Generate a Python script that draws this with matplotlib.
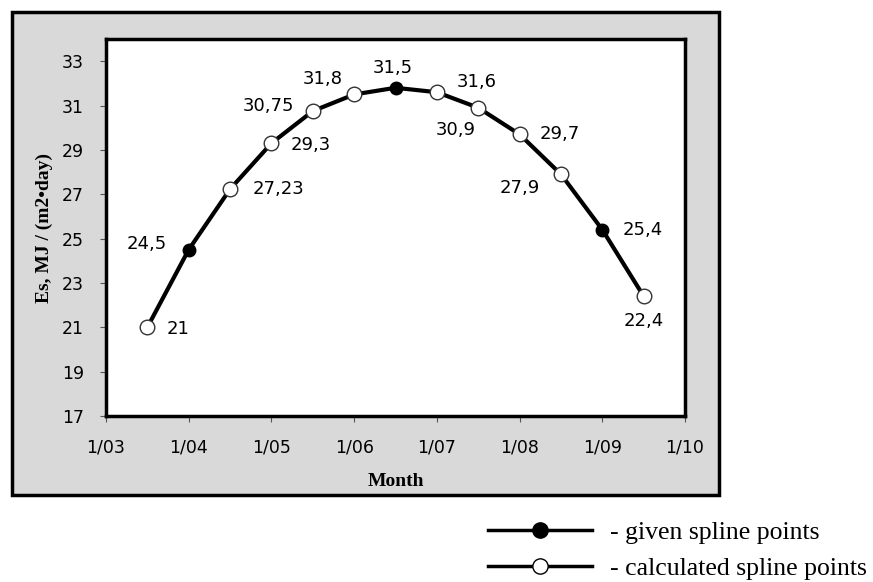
import matplotlib
matplotlib.use("Agg")
import matplotlib.pyplot as plt
from matplotlib.patches import Rectangle
from matplotlib.lines import Line2D

# months (3.5 = mid March ... 9.5 = mid September)
months = [3.5, 4.0, 4.5, 5.0, 5.5, 6.0, 6.5, 7.0, 7.5, 8.0, 8.5, 9.0, 9.5]
es_values = [21.0, 24.5, 27.23, 29.3, 30.75, 31.5, 31.8, 31.6, 30.9, 29.7, 27.9, 25.4, 22.4]
point_labels = ["21", "24,5", "27,23", "29,3", "30,75", "31,8", "31,5",
                "31,6", "30,9", "29,7", "27,9", "25,4", "22,4"]
given = [False, True, False, False, False, False, True, False, False, False, False, True, False]

x_ticks = [3, 4, 5, 6, 7, 8, 9, 10]
x_ticklabels = ["1/03", "1/04", "1/05", "1/06", "1/07", "1/08", "1/09", "1/10"]
y_ticks = [17, 19, 21, 23, 25, 27, 29, 31, 33]

# label offsets in points (dx, dy)
offsets = [(22, -1), (-30, 4), (35, 0), (28, -1), (-32, 4), (-23, 11), (-2, 14),
           (29, 7), (-16, -16), (29, 0), (-30, -10), (29, 0), (0, -18)]

fig = plt.figure(figsize=(8.73, 5.82), dpi=100)
fig.patch.set_facecolor("white")

frame = Rectangle((0.0138, 0.1495), 0.810, 0.830, transform=fig.transFigure,
                  facecolor="#d9d9d9", edgecolor="black", linewidth=2.5, zorder=-5)
fig.patches.append(frame)

ax = fig.add_axes([0.1214, 0.2852, 0.6633, 0.6478], zorder=1)
ax.set_facecolor("white")

ax.plot(months, es_values, color="black", linewidth=3, zorder=2)
for xv, yv, g in zip(months, es_values, given):
    if g:
        ax.plot(xv, yv, "o", color="black", markersize=9, zorder=3)
    else:
        ax.plot(xv, yv, "o", markerfacecolor="white", markeredgecolor="#333333",
                markeredgewidth=1, markersize=10.5, zorder=3)

for xv, yv, lab, (dx, dy) in zip(months, es_values, point_labels, offsets):
    ax.annotate(lab, (xv, yv), xytext=(dx, dy), textcoords="offset points",
                ha="center", va="center", fontsize=13, family="DejaVu Sans")

ax.set_xlim(3, 10)
ax.set_ylim(17, 34)
ax.set_xticks(x_ticks)
ax.set_xticklabels(x_ticklabels)
ax.set_yticks(y_ticks)
for spine in ax.spines.values():
    spine.set_linewidth(2.5)
ax.tick_params(direction="out", length=4, width=0.8, color="#555555",
               labelsize=12.5, pad=12)
for t in ax.get_xticklabels() + ax.get_yticklabels():
    t.set_family("DejaVu Sans")

ax.set_xlabel("Month", family="Liberation Serif", fontweight="bold", fontsize=14, labelpad=12)
ax.set_ylabel("Es, MJ / (m2\u2022day)", family="Liberation Serif", fontweight="bold",
              fontsize=14, labelpad=6)

handles = [
    Line2D([], [], color="black", linewidth=2.5, marker="o", markersize=11,
           markerfacecolor="black", markeredgecolor="black"),
    Line2D([], [], color="black", linewidth=2.5, marker="o", markersize=11,
           markerfacecolor="white", markeredgecolor="black"),
]
fig.legend(handles, ["- given spline points", "- calculated spline points"],
           loc="lower left", bbox_to_anchor=(0.532, -0.036), frameon=False,
           handlelength=4.05, handletextpad=0.7, labelspacing=0.5, numpoints=1,
           prop={"family": "Liberation Serif", "size": 18.5})

fig.savefig("out.png", dpi=100)
